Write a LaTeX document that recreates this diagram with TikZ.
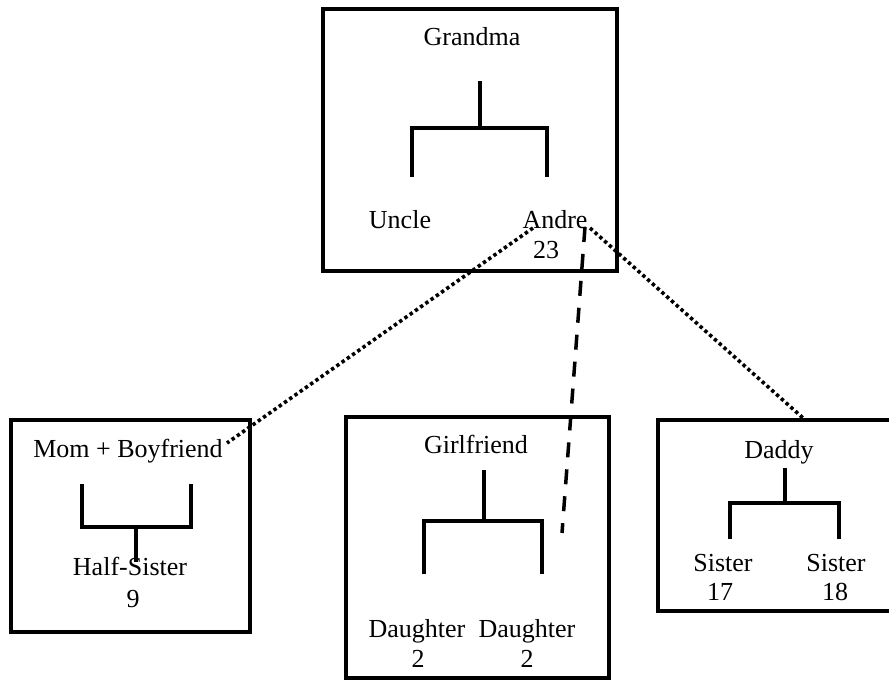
\documentclass[tikz,border=0pt]{standalone}
\usepackage{fontspec}
\setmainfont{Liberation Serif}
\begin{document}
\begin{tikzpicture}[x=1pt,y=-1pt,
  famebox/.style={draw,line width=4pt,rectangle,inner sep=0pt,outer sep=0pt},
  lbl/.style={anchor=base,inner sep=0pt,font=\fontsize{26}{30}\selectfont},
  tree/.style={line width=3.5pt,line join=miter},
  dotline/.style={line width=3.6pt,dash pattern=on 3.4pt off 3pt},
  dashline/.style={line width=3.5pt,dash pattern=on 15pt off 12pt}]
\useasboundingbox (0,0) rectangle (889,680);
% boxes
\node[famebox,minimum width=294pt,minimum height=262pt] (gbox) at (470,140) {};
\node[famebox,minimum width=239pt,minimum height=212pt] (mbox) at (130.5,526) {};
\node[famebox,minimum width=263pt,minimum height=261pt] (gfbox) at (477.5,547.5) {};
\node[famebox,minimum width=237pt,minimum height=191pt] (dbox) at (776.5,515.5) {};
% texts
\node[lbl] (grandma) at (472,45) {Grandma};
\node[lbl] (uncle) at (400,228) {Uncle};
\node[lbl] (andre) at (555,228) {Andre};
\node[lbl] (a23) at (546,258) {23};
\node[lbl] (mom) at (128,457) {Mom + Boyfriend};
\node[lbl] (half) at (130,575) {Half-Sister};
\node[lbl] (h9) at (133,607) {9};
\node[lbl] (girl) at (476,453) {Girlfriend};
\node[lbl] (d1) at (417,637) {Daughter};
\node[lbl] (d2) at (527,637) {Daughter};
\node[lbl] (d1a) at (418,667) {2};
\node[lbl] (d2a) at (527,667) {2};
\node[lbl] (daddy) at (779,458) {Daddy};
\node[lbl] (s1) at (723,571) {Sister};
\node[lbl] (s2) at (836,571) {Sister};
\node[lbl] (s1a) at (720,600) {17};
\node[lbl] (s2a) at (835,600) {18};
% trees
\draw[tree] (480,81) -- (480,128);
\draw[tree] (412,177) -- (412,128) -- (547,128) -- (547,177);
\draw[tree] (82,484) -- (82,527) -- (191,527) -- (191,484);
\draw[tree] (136,527) -- (136,562);
\draw[tree] (484,470) -- (484,521);
\draw[tree] (424,574) -- (424,521) -- (542,521) -- (542,574);
\draw[tree] (785,468) -- (785,503);
\draw[tree] (730,539) -- (730,503) -- (839,503) -- (839,539);
% connector end points
\coordinate (andreL) at (533,228);
\coordinate (andreR) at (590,228);
\coordinate (andreD) at (585,227);
\coordinate (momR) at (227,443);
\coordinate (daddyT) at (803,418);
\coordinate (girlR) at (562,533);
\draw[dotline] (andreL) -- (momR);
\draw[dotline] (andreR) -- (daddyT);
\draw[dashline] (andreD) -- (girlR);
\end{tikzpicture}
\end{document}
